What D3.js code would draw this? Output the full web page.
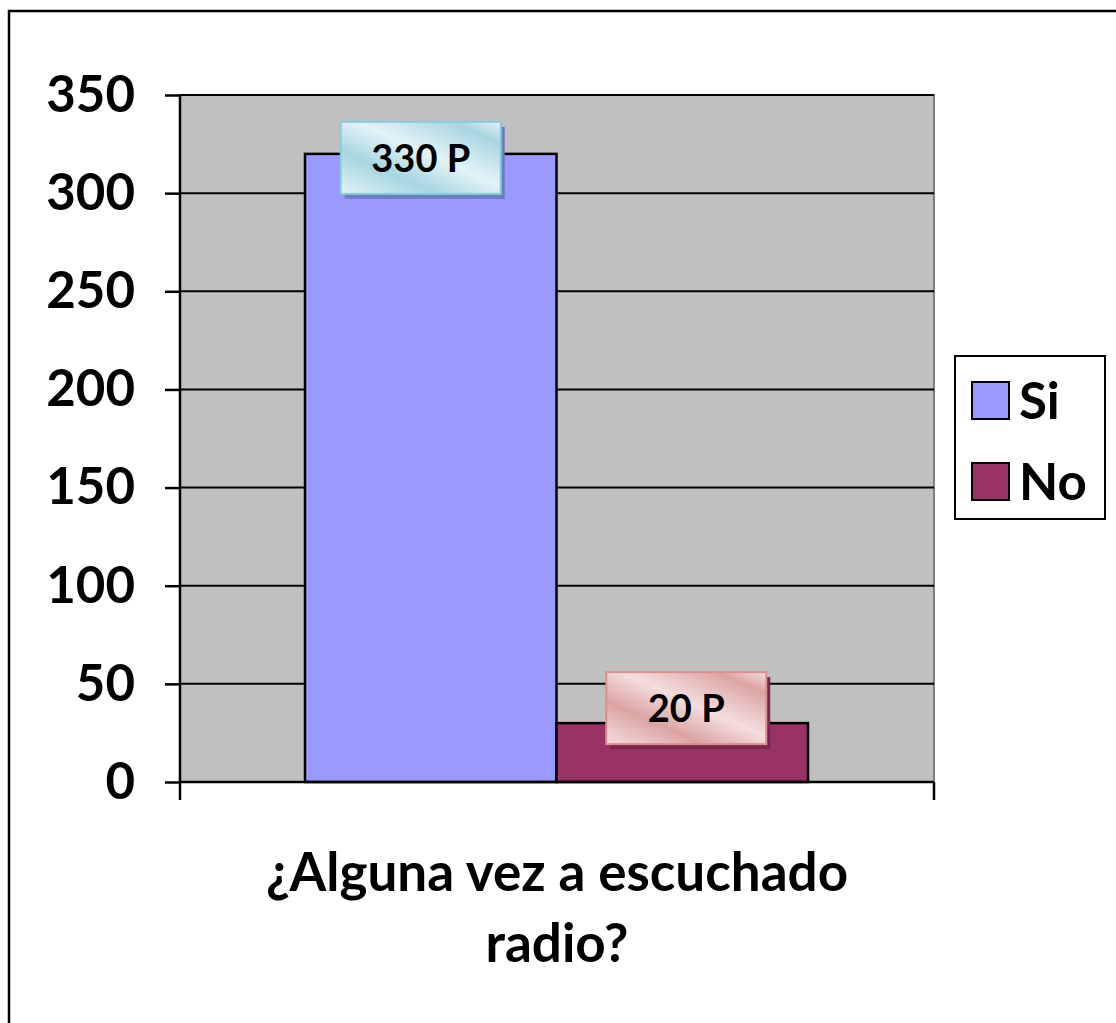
<!DOCTYPE html>
<html>
<head>
<meta charset="utf-8">
<title>Radio</title>
<script src="https://cdn.jsdelivr.net/npm/d3@7"></script>
<style>
body { margin: 0; background: #fff; }
text { font-family: Lato, "Open Sans", sans-serif; font-weight: 700; }
.axis path, .axis line { stroke: #000; stroke-width: 2.5; }
.axis text { font-size: 51px; fill: #000; font-family: Lato, sans-serif; font-weight: 700; }
</style>
</head>
<body>
<script>
var categories = ["Si", "No"];
var values = [320, 30];
var labels = ["330 P", "20 P"];
var colors = ["#9999FF", "#993366"];
var yTicks = [0, 50, 100, 150, 200, 250, 300, 350];
var title = ["¿Alguna vez a escuchado", "radio?"];

var width = 1116, height = 1023;
var svg = d3.select("body").append("svg")
	.attr("width", width)
	.attr("height", height);

// outer frame (clipped on right/bottom like the original)
svg.append("rect")
	.attr("x", 9).attr("y", 11)
	.attr("width", 1200).attr("height", 1100)
	.attr("fill", "#fff")
	.attr("stroke", "#000")
	.attr("stroke-width", 2.5);

var pLeft = 180, pRight = 934, pTop = 95, pBottom = 782;

var y = d3.scaleLinear().domain([0, 350]).range([pBottom, pTop]);
var x = d3.scaleBand().domain(categories).range([305, 808]).padding(0);

var defs = svg.append("defs");
function grad(id, light, dark){
	var g = defs.append("linearGradient").attr("id", id)
		.attr("x1", "0").attr("y1", "1").attr("x2", "1").attr("y2", "0");
	[[0, light], [0.3, dark], [0.55, light], [0.85, dark], [1, light]].forEach(function(s){
		g.append("stop").attr("offset", s[0]).attr("stop-color", s[1]);
	});
}
grad("gSi", "#e4f3f7", "#a6d6e1");
grad("gNo", "#f4dede", "#dca4a4");

// plot area
svg.append("rect")
	.attr("x", pLeft).attr("y", pTop)
	.attr("width", pRight - pLeft).attr("height", pBottom - pTop)
	.attr("fill", "#C0C0C0")
	.attr("stroke", "#808080")
	.attr("stroke-width", 2);

// gridlines
svg.selectAll(".grid")
	.data(yTicks.filter(function(d){ return d > 0; }))
	.enter().append("line")
	.attr("x1", pLeft).attr("x2", pRight)
	.attr("y1", function(d){ return y(d); })
	.attr("y2", function(d){ return y(d); })
	.attr("stroke", "#000")
	.attr("stroke-width", 2);

// bars
svg.selectAll(".bar")
	.data(values)
	.enter().append("rect")
	.attr("x", function(d, i){ return x(categories[i]); })
	.attr("y", function(d){ return y(d); })
	.attr("width", x.bandwidth())
	.attr("height", function(d){ return pBottom - y(d); })
	.attr("fill", function(d, i){ return colors[i]; })
	.attr("stroke", "#000")
	.attr("stroke-width", 2.5);

// axes
var axisY = d3.axisLeft(y).tickValues(yTicks).tickSize(15).tickPadding(30);
svg.append("g").attr("class", "axis")
	.attr("transform", "translate(" + pLeft + ",0)")
	.call(axisY)
	.call(function(g){ g.select(".domain").attr("d", "M0," + pTop + "V" + pBottom); });

svg.append("line")
	.attr("x1", pLeft).attr("x2", pRight)
	.attr("y1", pBottom).attr("y2", pBottom)
	.attr("stroke", "#000").attr("stroke-width", 2.5);
[pLeft, pRight].forEach(function(px){
	svg.append("line")
		.attr("x1", px).attr("x2", px)
		.attr("y1", pBottom).attr("y2", pBottom + 18)
		.attr("stroke", "#000").attr("stroke-width", 2.5);
});

// data labels
var boxW = 160, boxH = 72;
var offs = [4, -15];
var lab = svg.selectAll(".lab")
	.data(values)
	.enter().append("g")
	.attr("transform", function(d, i){
		var cx = x(categories[i]) + x.bandwidth() / 2 + (i == 0 ? -10 : 4);
		var cy = y(d) + offs[i];
		return "translate(" + (cx - boxW / 2) + "," + (cy - boxH / 2) + ")";
	});
lab.append("rect")
	.attr("x", 4).attr("y", 5)
	.attr("width", boxW).attr("height", boxH)
	.attr("fill", function(d, i){ return i == 0 ? "#6a7fbf" : "#7a2848"; });
lab.append("rect")
	.attr("width", boxW).attr("height", boxH)
	.attr("fill", function(d, i){ return i == 0 ? "url(#gSi)" : "url(#gNo)"; })
	.attr("stroke", function(d, i){ return i == 0 ? "#8ccbd8" : "#d89090"; })
	.attr("stroke-width", 2);
lab.append("text")
	.attr("x", boxW / 2).attr("y", boxH / 2 + 14)
	.attr("text-anchor", "middle")
	.attr("font-size", "38px")
	.attr("fill", "#000")
	.text(function(d, i){ return labels[i]; });

// legend
var leg = svg.append("g");
leg.append("rect")
	.attr("x", 955).attr("y", 356)
	.attr("width", 150).attr("height", 163)
	.attr("fill", "#fff")
	.attr("stroke", "#000")
	.attr("stroke-width", 2);
categories.forEach(function(c, i){
	leg.append("rect")
		.attr("x", 972).attr("y", 382 + i * 81)
		.attr("width", 37).attr("height", 37)
		.attr("fill", colors[i])
		.attr("stroke", "#000")
		.attr("stroke-width", 2);
	leg.append("text")
		.attr("x", 1019).attr("y", 419 + i * 81)
		.attr("font-size", "51px")
		.attr("fill", "#000")
		.text(c);
});

// title
svg.selectAll(".title")
	.data(title)
	.enter().append("text")
	.attr("x", 557)
	.attr("y", function(d, i){ return 891 + i * 71; })
	.attr("text-anchor", "middle")
	.attr("font-size", "53px")
	.attr("fill", "#000")
	.text(function(d){ return d; });
</script>
</body>
</html>
